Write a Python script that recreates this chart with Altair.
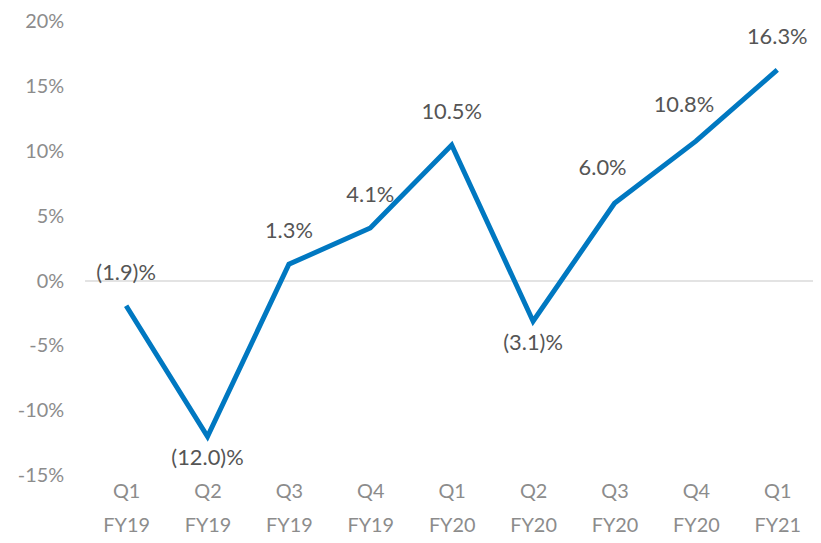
import altair as alt
import pandas as pd

quarters = ["Q1 FY19", "Q2 FY19", "Q3 FY19", "Q4 FY19", "Q1 FY20",
            "Q2 FY20", "Q3 FY20", "Q4 FY20", "Q1 FY21"]
values = [-1.9, -12.0, 1.3, 4.1, 10.5, -3.1, 6.0, 10.8, 16.3]
labels = ["(1.9)%", "(12.0)%", "1.3%", "4.1%", "10.5%", "(3.1)%", "6.0%", "10.8%", "16.3%"]
y_ticks = [-15, -10, -5, 0, 5, 10, 15, 20]

df = pd.DataFrame({"q": quarters, "v": values, "lab": labels})

FONT = "Lato"
W, H = 733, 457

x = alt.X("q:N", sort=quarters,
          scale=alt.Scale(type="point", range=[41, 697], padding=0),
          axis=alt.Axis(title=None, labelExpr="split(datum.label, ' ')", labelAngle=0,
                        labelFont=FONT, labelFontSize=20, labelColor="#8c8c8c",
                        labelLineHeight=34, labelPadding=6, ticks=False, domain=False,
                        grid=False, labelBaseline="top"))
y = alt.Y("v:Q", scale=alt.Scale(domain=[-15, 20], nice=False, zero=False),
          axis=alt.Axis(title=None, values=y_ticks, labelExpr="datum.value + '%'",
                        labelFont=FONT, labelFontSize=20, labelColor="#8c8c8c",
                        labelPadding=22, ticks=False, domain=False, grid=False))

zero = alt.Chart(df).mark_rule(color="#e3e3e3", strokeWidth=2).encode(
    y=alt.datum(0), x=alt.value(0), x2=alt.value(W))

line = alt.Chart(df).mark_line(color="#0078c1", strokeWidth=5, strokeJoin="miter").encode(x=x, y=y)

txt = dict(font=FONT, fontSize=22, color="#555555")
above = alt.Chart(df).transform_filter(
    "(datum.v >= 0 || datum.q == 'Q1 FY19') && datum.q != 'Q3 FY20' && datum.q != 'Q4 FY20'"
).mark_text(dy=-33, **txt).encode(x=x, y=y, text="lab:N")
shifted = alt.Chart(df).transform_filter(
    "datum.q == 'Q3 FY20' || datum.q == 'Q4 FY20'"
).mark_text(dx=-12, dy=-36, **txt).encode(x=x, y=y, text="lab:N")
below = alt.Chart(df).transform_filter("datum.v < 0 && datum.q != 'Q1 FY19'").mark_text(
    dy=22, **txt).encode(x=x, y=y, text="lab:N")

chart = alt.layer(zero, line, above, shifted, below).properties(
    width=W, height=H,
    autosize=alt.AutoSizeParams(type="none"),
    padding={"left": 78, "top": 12, "right": 0, "bottom": 65},
).configure_view(stroke=None)

chart.save("out.html", embed_options={"renderer": "svg", "actions": False})
